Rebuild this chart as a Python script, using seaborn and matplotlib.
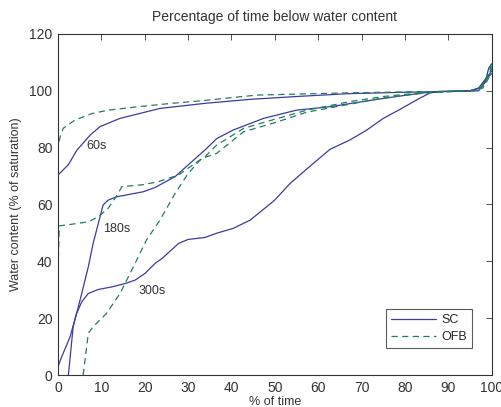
import numpy as np
import pandas as pd
import matplotlib
matplotlib.use("Agg")
import matplotlib.pyplot as plt
from matplotlib.lines import Line2D
import seaborn as sns

# percentile curves (x = % of time, y = water content)
sc60_x = [0, 0, 2.4, 4.3, 7.4, 9.7, 14.3, 23.5, 33.9, 44.3, 55, 67, 80, 90, 97, 98.5, 99.3, 100]
sc60_y = [0, 70.4, 74, 79, 84.4, 87.4, 90.3, 93.8, 95.6, 97, 98, 99, 99.5, 99.8, 100, 103, 108, 109.5]

sc180_x = [2.4, 3.5, 5.1, 7.0, 8.1, 10.4, 11.5, 13.5, 19.7, 22.4, 27, 30, 33.9, 36.6, 40.4, 47.4,
           55, 62.7, 72.7, 80.4, 86.5, 95, 97.5, 99, 100]
sc180_y = [0, 17, 26.4, 38.1, 46.3, 59.8, 61.5, 62.7, 64.5, 66, 69.8, 73.9, 79.2, 83.2, 86.2, 90.3,
           93.2, 94.4, 96.8, 98.5, 99.7, 100, 101, 105, 107]

sc300_x = [0, 0, 0.85, 2.8, 4.3, 5.5, 7.0, 9.3, 12.4, 15.5, 17.8, 20.1, 22.4, 24, 27.8, 30, 33.9,
           36.6, 40.4, 44.3, 48.1, 50, 53.5, 58.9, 62.7, 67.3, 71.2, 75, 78.9, 82.7, 85.8, 88.1,
           95, 97, 98.5, 100]
sc300_y = [0, 2.9, 6.4, 13.5, 21.7, 25.8, 28.7, 30.1, 31, 32.2, 33.4, 35.8, 39.3, 41, 46.3, 47.7,
           48.4, 49.9, 51.6, 54.5, 59.2, 61.6, 67.4, 74.5, 79.4, 82.7, 86.2, 90.3, 93.5, 96.8, 99.3,
           99.7, 100, 101, 104, 106]

ofb60_x = [0, 0, 0.5, 1.2, 3.9, 7.8, 11.6, 18.5, 26.2, 33.1, 45.8, 67.3, 80, 90, 96, 98, 99.5, 100]
ofb60_y = [0, 80.3, 83.8, 86.8, 89.7, 92, 93.2, 94.4, 95.6, 96.5, 98.5, 99.3, 99.6, 99.8, 100, 102, 107, 110]

ofb180_x = [0, 0.1, 0.3, 2, 7, 9.3, 11.6, 13.9, 14.7, 19.3, 23.1, 27.8, 31.6, 33.9, 36.6, 42.8,
            50, 57.4, 67.3, 75, 85, 95, 98, 99.5, 100]
ofb180_y = [0, 42, 52.5, 52.8, 53.9, 55.7, 58.7, 63.9, 66.3, 66.9, 68, 70.4, 74.5, 76.8, 80.9, 86.8,
            90, 93.2, 96.2, 98, 99.5, 100, 101.5, 106, 109]

ofb300_x = [5.8, 7, 8.1, 11.2, 14.3, 17.4, 20.4, 23.5, 27, 30, 33.1, 36.6, 42.8, 50, 57.4, 67.3,
            75, 85, 95, 98, 99.5, 100]
ofb300_y = [0, 14.7, 17, 21.7, 28.7, 38.1, 47.5, 54.5, 63.9, 70.9, 76.2, 78, 85.6, 88.8, 92.5, 95.3,
            97.5, 99.3, 100, 101, 105, 108]

labels = ["60s", "180s", "300s"]
label_x = [6.6, 10.4, 18.5]
label_y = [80.5, 51.5, 29.5]

sns.set_style("white")
plt.rcParams['font.family'] = ['Liberation Sans', 'DejaVu Sans']

SC_COL = "#3b3ba3"
OFB_COL = "#1f7f5c"
TXT = "#333333"

fig = plt.figure(figsize=(5.02, 4.07), dpi=100)
ax = fig.add_axes([0.1155, 0.0786, 0.864, 0.8379])

for xs, ys in [(sc60_x, sc60_y), (sc180_x, sc180_y), (sc300_x, sc300_y)]:
    sns.lineplot(x=xs, y=ys, sort=False, estimator=None, color=SC_COL, lw=0.9, ax=ax)
for xs, ys in [(ofb60_x, ofb60_y), (ofb180_x, ofb180_y), (ofb300_x, ofb300_y)]:
    sns.lineplot(x=xs, y=ys, sort=False, estimator=None, color=OFB_COL, lw=0.9,
                 linestyle=(0, (5, 3.5)), ax=ax)

for t, tx, ty in zip(labels, label_x, label_y):
    ax.text(tx, ty, t, fontsize=9, color=TXT, va="center", ha="left")

ax.set_xlim(0, 100)
ax.set_ylim(0, 120)
ax.set_xticks(np.arange(0, 101, 10))
ax.set_yticks(np.arange(0, 121, 20))
ax.tick_params(direction="in", length=4, width=0.6, top=True, right=True,
               labelsize=10, colors=TXT, pad=4)
for s in ax.spines.values():
    s.set_color(TXT)
    s.set_linewidth(0.8)

ax.set_title("Percentage of time below water content", fontsize=10, color=TXT, pad=9)
ax.set_xlabel("% of time", fontsize=9, color=TXT, labelpad=1)
ax.set_ylabel("Water content (% of saturation)", fontsize=9, color=TXT, labelpad=5)

handles = [Line2D([], [], color=SC_COL, lw=0.9),
           Line2D([], [], color=OFB_COL, lw=0.9, linestyle=(0, (5, 3.5)))]
leg = ax.legend(handles, ["SC", "OFB"], loc="lower right", bbox_to_anchor=(0.955, 0.079),
                borderaxespad=0, fontsize=9, frameon=True, fancybox=False, handlelength=3.6,
                handletextpad=0.4, borderpad=0.4, labelspacing=0.4)
leg.get_frame().set_edgecolor(TXT)
leg.get_frame().set_linewidth(0.8)

fig.savefig("out.png", dpi=100)
